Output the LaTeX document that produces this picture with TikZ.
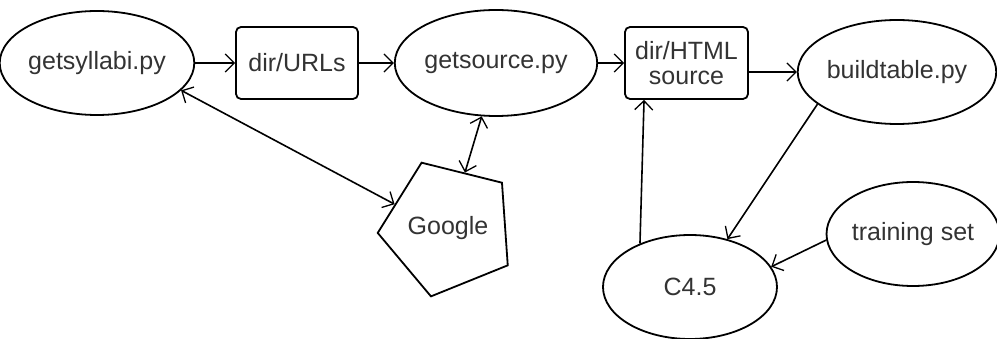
\documentclass[tikz,border=0pt]{standalone}
\usepackage{fontspec}
\setmainfont{Liberation Sans}
\usetikzlibrary{shapes.geometric,arrows.meta}
\begin{document}
\begin{tikzpicture}[x=1pt,y=-1pt,
  every node/.style={font=\fontsize{25}{28}\selectfont, text=black!80, line width=1.8pt, draw=black, inner sep=0pt},
  ell/.style={ellipse, minimum width=172pt, minimum height=104pt},
  box/.style={rectangle, rounded corners=5pt, minimum width=122pt, minimum height=72pt, align=center},
  pent/.style={regular polygon, regular polygon sides=5, minimum size=140pt, shape border rotate=22},
  arr/.style={line width=1.6pt, -{Straight Barb[length=9pt,width=18pt,line width=1.3pt]}},
  darr/.style={line width=1.6pt, {Straight Barb[length=9pt,width=18pt,line width=1.3pt]}-{Straight Barb[length=9pt,width=18pt,line width=1.3pt]}}
]
\useasboundingbox (0,0) rectangle (997,339);
\node[ell] (gsy) at (97,63) {getsyllabi.py};
\node[box] (urls) at (297,63) {dir/URLs};
\node[ell, minimum width=170pt, minimum height=106pt] (gso) at (496,63) {getsource.py};
\node[box, minimum width=123pt, text depth=0pt] (html) at (686.5,63) {dir/HTML\\[-3pt]source};
\node[ell, minimum width=170pt] (bt) at (897,72) {buildtable.py};
\node[pent] (goo) at (448,228) {Google};
\node[ell, minimum width=174pt] (c45) at (690,287) {C4.5};
\node[ell, minimum width=168pt] (ts) at (913,234) {training set};

\draw[arr] (gsy) -- (urls);
\draw[arr] (urls) -- (gso);
\draw[arr] (gso) -- (html);
\draw[arr] (html.east |- bt.west) -- (bt.west);
\draw[darr] (gsy.-18) -- (goo.156.5);
\draw[darr] (gso.255) -- (goo.73);
\draw[arr] (c45.139) -- (html.221.6);
\draw[arr] (bt.202.7) -- (c45.52);
\draw[arr] (ts.184) -- (c45.14);
\end{tikzpicture}
\end{document}
